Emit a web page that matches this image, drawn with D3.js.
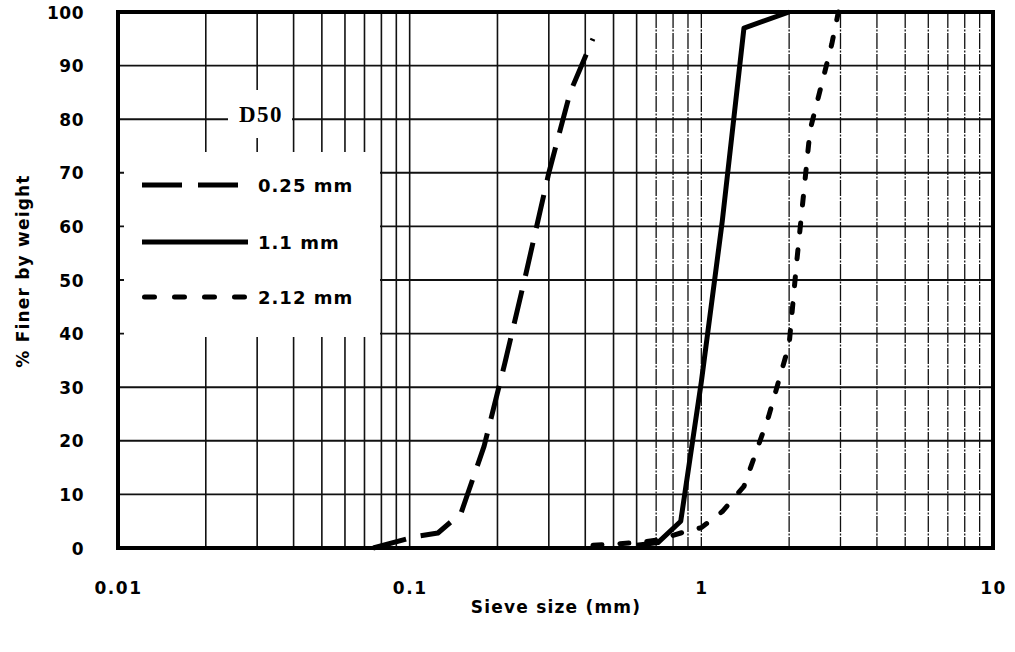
<!DOCTYPE html>
<html><head><meta charset="utf-8">
<script src="https://cdn.jsdelivr.net/npm/d3@7"></script>
<style>body{margin:0;background:#fff} svg{display:block}</style>
</head><body>
<svg id="c" width="1015" height="652"></svg>
<script>
// ---- data ----
const yTicks = [0,10,20,30,40,50,60,70,80,90,100];
const xTickValues = [0.01,0.1,1,10];
const xTickLabels = ["0.01","0.1","1","10"];
const seriesNames = ["0.25 mm","1.1 mm","2.12 mm"];
const size025 = [0.075,0.106,0.125,0.15,0.18,0.212,0.25,0.3,0.355,0.425];
const pct025  = [0,2.2,2.8,6.5,19,34.5,51,70,85,95];
const size11  = [0.6,0.71,0.85,1.0,1.18,1.4,2.0];
const pct11   = [0.5,1,5,31,61,97,100];
const size212 = [0.425,0.6,0.71,0.85,1.0,1.18,1.4,1.7,2.0,2.12,2.36,2.8,2.95];
const pct212  = [0.5,1,1.5,2.8,3.8,6.8,11.5,24.5,38,53,78,94,100];
const annotation = "D50";
const xTitle = "Sieve size (mm)";
const yTitle = "% Finer by weight";

// ---- layout ----
const L = 118, R = 993, T = 12, B = 548;
const svg = d3.select("#c");
const x = d3.scaleLog().domain([0.01,10]).range([L,R]);
const y = d3.scaleLinear().domain([0,100]).range([B,T]);

const series = [
  {name: seriesNames[0], s: size025, p: pct025, dash: "34,15", cap: "butt"},
  {name: seriesNames[1], s: size11,  p: pct11,  dash: null,    cap: "butt"},
  {name: seriesNames[2], s: size212, p: pct212, dash: "9,18",  cap: "round"}
];

// ---- grid ----
const grid = svg.append("g");
const vt = x.ticks().filter(d => d > 0.0101 && d < 9.99);
grid.selectAll("line.v").data(vt).enter().append("line")
  .attr("x1", d => x(d)).attr("x2", d => x(d))
  .attr("y1", T).attr("y2", B)
  .attr("stroke", "#111").attr("stroke-width", d => d > 0.65 ? 1.3 : 1.6)
  .attr("stroke-dasharray", d => d > 0.65 ? "16,1.5,2,1.5" : null);
grid.selectAll("line.h").data(yTicks).enter().append("line")
  .attr("x1", L).attr("x2", R)
  .attr("y1", d => y(d)).attr("y2", d => y(d))
  .attr("stroke", "#111").attr("stroke-width", 1.9);

// ---- curves ----
const line = d3.line().x(d => x(d[0])).y(d => y(d[1]));
series.forEach(se => {
  svg.append("path")
    .datum(se.s.map((v,i) => [v, se.p[i]]))
    .attr("d", line)
    .attr("fill", "none").attr("stroke", "#000").attr("stroke-width", 5)
    .attr("stroke-linecap", se.cap).attr("stroke-linejoin", "round")
    .attr("stroke-dasharray", se.dash);
});

// ---- frame ----
svg.append("rect").attr("x", L).attr("y", T).attr("width", R-L).attr("height", B-T)
  .attr("fill", "none").attr("stroke", "#000").attr("stroke-width", 4);

// ---- axes labels ----
const yAxis = d3.axisLeft(y).tickValues(yTicks).tickSize(0).tickPadding(0).tickFormat(d3.format("d"));
const ya = svg.append("g").attr("transform", `translate(${84},0)`).call(yAxis);
ya.select(".domain").remove();
ya.selectAll("text").attr("font-family", "DejaVu Sans").attr("font-weight", "bold")
  .attr("font-size", 17).attr("letter-spacing", 0.5).attr("fill", "#000").attr("dy", "0.36em");

const xAxis = d3.axisBottom(x).tickValues(xTickValues).tickSize(0).tickPadding(0)
  .tickFormat((d,i) => xTickLabels[i]);
const xa = svg.append("g").attr("transform", `translate(0,${582})`).call(xAxis);
xa.select(".domain").remove();
xa.selectAll("text").attr("font-family", "DejaVu Sans").attr("font-weight", "bold")
  .attr("font-size", 17).attr("letter-spacing", 1.5).attr("fill", "#000").attr("dy", "0.71em");

svg.append("text").attr("x", 556).attr("y", 613).attr("text-anchor", "middle")
  .attr("font-family", "DejaVu Sans").attr("font-weight", "bold").attr("font-size", 17)
  .attr("letter-spacing", 1.2).text(xTitle);
svg.append("text").attr("transform", "translate(29,271) rotate(-90)").attr("text-anchor", "middle")
  .attr("font-family", "DejaVu Sans").attr("font-weight", "bold").attr("font-size", 17)
  .attr("letter-spacing", 1.2).text(yTitle);

// ---- D50 annotation ----
svg.append("rect").attr("x", 228).attr("y", 90).attr("width", 64).attr("height", 48).attr("fill", "#fff");
svg.append("text").attr("x", 261).attr("y", 122).attr("text-anchor", "middle")
  .attr("font-family", "Liberation Serif").attr("font-weight", "bold").attr("font-size", 23)
  .attr("letter-spacing", 1.5).text(annotation);

// ---- legend ----
svg.append("rect").attr("x", 124).attr("y", 152).attr("width", 256).attr("height", 185).attr("fill", "#fff");
const legY = [185, 242, 297];
const legSeg = [[142,238],[142,248],[144.5,245]];
series.forEach((se,i) => {
  svg.append("line").attr("x1", legSeg[i][0]).attr("x2", legSeg[i][1])
    .attr("y1", legY[i]).attr("y2", legY[i])
    .attr("stroke", "#000").attr("stroke-width", 5)
    .attr("stroke-linecap", se.cap)
    .attr("stroke-dasharray", i === 0 ? "40,16" : (i === 2 ? "10,20" : null));
  svg.append("text").attr("x", 258).attr("y", legY[i] + 7)
    .attr("font-family", "DejaVu Sans").attr("font-weight", "bold").attr("font-size", 18)
    .attr("letter-spacing", 1).text(se.name);
});
</script>
</body></html>
